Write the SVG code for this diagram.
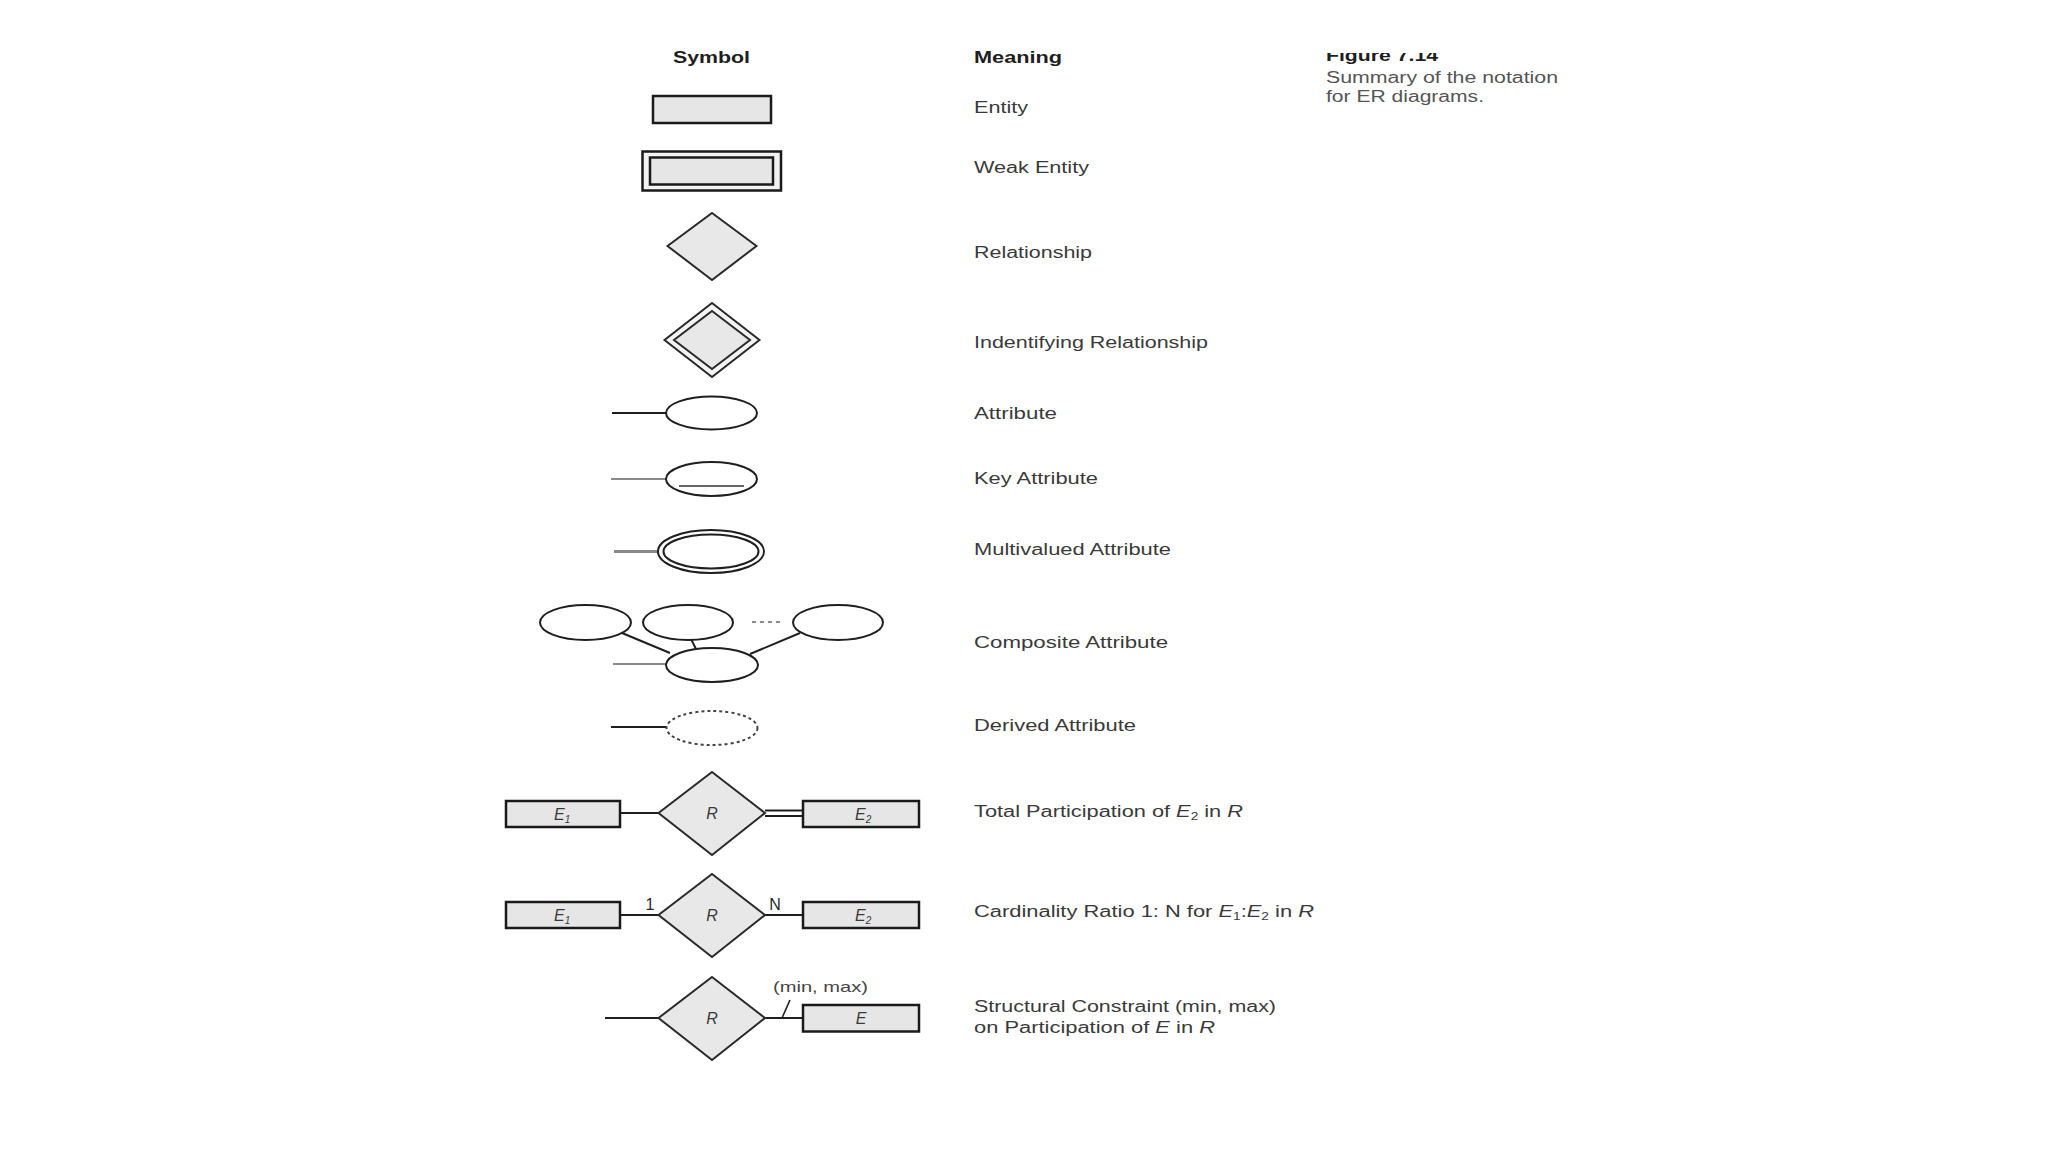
<svg xmlns="http://www.w3.org/2000/svg" width="2048" height="1152" viewBox="0 0 2048 1152">
<defs>
<style>
.bg{fill:#ffffff}
.ent{fill:#e6e6e6;stroke:#1a1a1a;stroke-width:2.5}
.rel{fill:#e8e8e8;stroke:#2a2a2a;stroke-width:2}
.att{fill:#ffffff;stroke:#1f1f1f;stroke-width:2}
.ln{stroke:#1f1f1f;stroke-width:2;fill:none}
.lng{stroke:#8a8a8a;stroke-width:2;fill:none}
.hd{font-family:"Liberation Sans",Arial,sans-serif;font-weight:bold;font-size:16px;fill:#1e1e1e}
.lb{font-family:"Liberation Sans",Arial,sans-serif;font-size:16px;fill:#3a3a3a}
.cap{font-family:"Liberation Sans",Arial,sans-serif;font-size:16px;fill:#555555}
.sym{font-family:"Liberation Sans",Arial,sans-serif;font-style:italic;font-size:16px;fill:#3a3a3a}
.num{font-family:"Liberation Sans",Arial,sans-serif;font-size:16px;fill:#2a2a2a}
</style>
<clipPath id="figclip"><rect x="1300" y="53" width="300" height="40"/></clipPath>
</defs>
<rect class="bg" x="0" y="0" width="2048" height="1152"/>

<g id="headers">
<text class="hd" x="673" y="63" textLength="77" lengthAdjust="spacingAndGlyphs">Symbol</text>
<text class="hd" x="974" y="63" textLength="88" lengthAdjust="spacingAndGlyphs">Meaning</text>
<text class="hd" x="1326" y="61" textLength="112" lengthAdjust="spacingAndGlyphs" clip-path="url(#figclip)">Figure 7.14</text>
<text class="cap" x="1326" y="83" textLength="232" lengthAdjust="spacingAndGlyphs">Summary of the notation</text>
<text class="cap" x="1326" y="102" textLength="158" lengthAdjust="spacingAndGlyphs">for ER diagrams.</text>
</g>

<g id="connectors">
<line class="ln" x1="612" y1="413" x2="666" y2="413"/>
<line class="lng" x1="611" y1="479" x2="666" y2="479"/>
<line class="lng" x1="614" y1="551.5" x2="658" y2="551.5" style="stroke-width:3"/>
<line class="lng" x1="613" y1="664" x2="666" y2="664"/>
<line class="ln" x1="622" y1="633" x2="670" y2="653"/>
<line class="ln" x1="691" y1="639" x2="696" y2="649"/>
<line class="ln" x1="800" y1="633" x2="750" y2="654"/>
<line class="lng" x1="752" y1="622" x2="780" y2="622" stroke-dasharray="4 4"/>
<line class="ln" x1="611" y1="727" x2="667" y2="727"/>
<line class="ln" x1="620" y1="813" x2="658.5" y2="813"/>
<line class="ln" x1="765" y1="810.5" x2="803" y2="810.5"/>
<line class="ln" x1="765" y1="816" x2="803" y2="816"/>
<line class="ln" x1="620" y1="915" x2="658.5" y2="915"/>
<line class="ln" x1="765" y1="915" x2="803" y2="915"/>
<line class="ln" x1="605" y1="1018" x2="658.5" y2="1018"/>
<line class="ln" x1="765" y1="1018" x2="803" y2="1018"/>
<line class="ln" x1="782" y1="1018" x2="790" y2="1000" style="stroke-width:1.6"/>
</g>

<g id="entity">
<rect class="ent" x="653" y="96" width="118" height="27"/>
<text class="lb" x="974" y="113" textLength="54" lengthAdjust="spacingAndGlyphs">Entity</text>
</g>

<g id="weak-entity">
<rect class="ent" x="642.5" y="151.5" width="138.5" height="39" style="fill:#f2f2f2"/>
<rect class="ent" x="650" y="157.5" width="123" height="27"/>
<text class="lb" x="974" y="173" textLength="115" lengthAdjust="spacingAndGlyphs">Weak Entity</text>
</g>

<g id="relationship">
<polygon class="rel" points="712,213 756.5,246 712,280 667.5,246"/>
<text class="lb" x="974" y="258" textLength="118" lengthAdjust="spacingAndGlyphs">Relationship</text>
</g>

<g id="identifying-relationship">
<polygon class="rel" points="712,303 759.5,340 712,377 664.5,340" style="fill:#f4f4f4"/>
<polygon class="rel" points="712,311 750,340 712,369 674,340"/>
<text class="lb" x="974" y="348" textLength="234" lengthAdjust="spacingAndGlyphs">Indentifying Relationship</text>
</g>

<g id="attribute">
<ellipse class="att" cx="711.5" cy="413" rx="45.5" ry="16.5"/>
<text class="lb" x="974" y="419" textLength="83" lengthAdjust="spacingAndGlyphs">Attribute</text>
</g>

<g id="key-attribute">
<ellipse class="att" cx="711.5" cy="479" rx="45.5" ry="17"/>
<line class="lng" x1="679" y1="486" x2="744" y2="486" style="stroke:#666"/>
<text class="lb" x="974" y="484" textLength="124" lengthAdjust="spacingAndGlyphs">Key Attribute</text>
</g>

<g id="multivalued-attribute">
<ellipse class="att" cx="711" cy="551.5" rx="53" ry="21.5"/>
<ellipse class="att" cx="711" cy="551.5" rx="47.5" ry="17"/>
<text class="lb" x="974" y="555" textLength="197" lengthAdjust="spacingAndGlyphs">Multivalued Attribute</text>
</g>

<g id="composite-attribute">
<ellipse class="att" cx="585.5" cy="622.5" rx="45.5" ry="17.5"/>
<ellipse class="att" cx="688" cy="622.5" rx="45" ry="17.5"/>
<ellipse class="att" cx="838" cy="622.5" rx="45" ry="17.5"/>
<ellipse class="att" cx="712" cy="665" rx="46" ry="17"/>
<text class="lb" x="974" y="648" textLength="194" lengthAdjust="spacingAndGlyphs">Composite Attribute</text>
</g>

<g id="derived-attribute">
<ellipse class="att" cx="712" cy="728" rx="45.5" ry="17" stroke-dasharray="3 3" style="stroke:#444"/>
<text class="lb" x="974" y="731" textLength="162" lengthAdjust="spacingAndGlyphs">Derived Attribute</text>
</g>

<g id="total-participation">
<rect class="ent" x="506" y="801" width="114" height="26"/>
<text class="sym" x="554" y="820">E<tspan font-size="10" dy="3">1</tspan></text>
<polygon class="rel" points="712,772 765,813 712,855 658.5,813"/>
<text class="sym" x="712" y="819" text-anchor="middle">R</text>
<rect class="ent" x="803" y="801" width="116" height="26"/>
<text class="sym" x="855" y="820">E<tspan font-size="10" dy="3">2</tspan></text>
<text class="lb" x="974" y="817" textLength="269" lengthAdjust="spacingAndGlyphs">Total Participation of <tspan font-style="italic">E</tspan><tspan font-size="10" dy="3">2</tspan><tspan dy="-3"> in </tspan><tspan font-style="italic">R</tspan></text>
</g>

<g id="cardinality-ratio">
<rect class="ent" x="506" y="902" width="114" height="26"/>
<text class="sym" x="554" y="921">E<tspan font-size="10" dy="3">1</tspan></text>
<polygon class="rel" points="712,874 765,915 712,957 658.5,915"/>
<text class="sym" x="712" y="921" text-anchor="middle">R</text>
<rect class="ent" x="803" y="902" width="116" height="26"/>
<text class="sym" x="855" y="921">E<tspan font-size="10" dy="3">2</tspan></text>
<text class="num" x="650" y="910" text-anchor="middle">1</text>
<text class="num" x="775" y="910" text-anchor="middle">N</text>
<text class="lb" x="974" y="917" textLength="340" lengthAdjust="spacingAndGlyphs">Cardinality Ratio 1: N for <tspan font-style="italic">E</tspan><tspan font-size="10" dy="3">1</tspan><tspan dy="-3">:</tspan><tspan font-style="italic">E</tspan><tspan font-size="10" dy="3">2</tspan><tspan dy="-3"> in </tspan><tspan font-style="italic">R</tspan></text>
</g>

<g id="structural-constraint">
<polygon class="rel" points="712,977 765,1018 712,1060 658.5,1018"/>
<text class="sym" x="712" y="1024" text-anchor="middle">R</text>
<rect class="ent" x="803" y="1005" width="116" height="26.5"/>
<text class="sym" x="861" y="1024" text-anchor="middle">E</text>
<text class="num" x="773" y="992" textLength="95" lengthAdjust="spacingAndGlyphs" style="font-size:15px;fill:#444">(min, max)</text>
<text class="lb" x="974" y="1012" textLength="302" lengthAdjust="spacingAndGlyphs">Structural Constraint (min, max)</text>
<text class="lb" x="974" y="1033" textLength="241" lengthAdjust="spacingAndGlyphs">on Participation of <tspan font-style="italic">E</tspan> in <tspan font-style="italic">R</tspan></text>
</g>
</svg>
